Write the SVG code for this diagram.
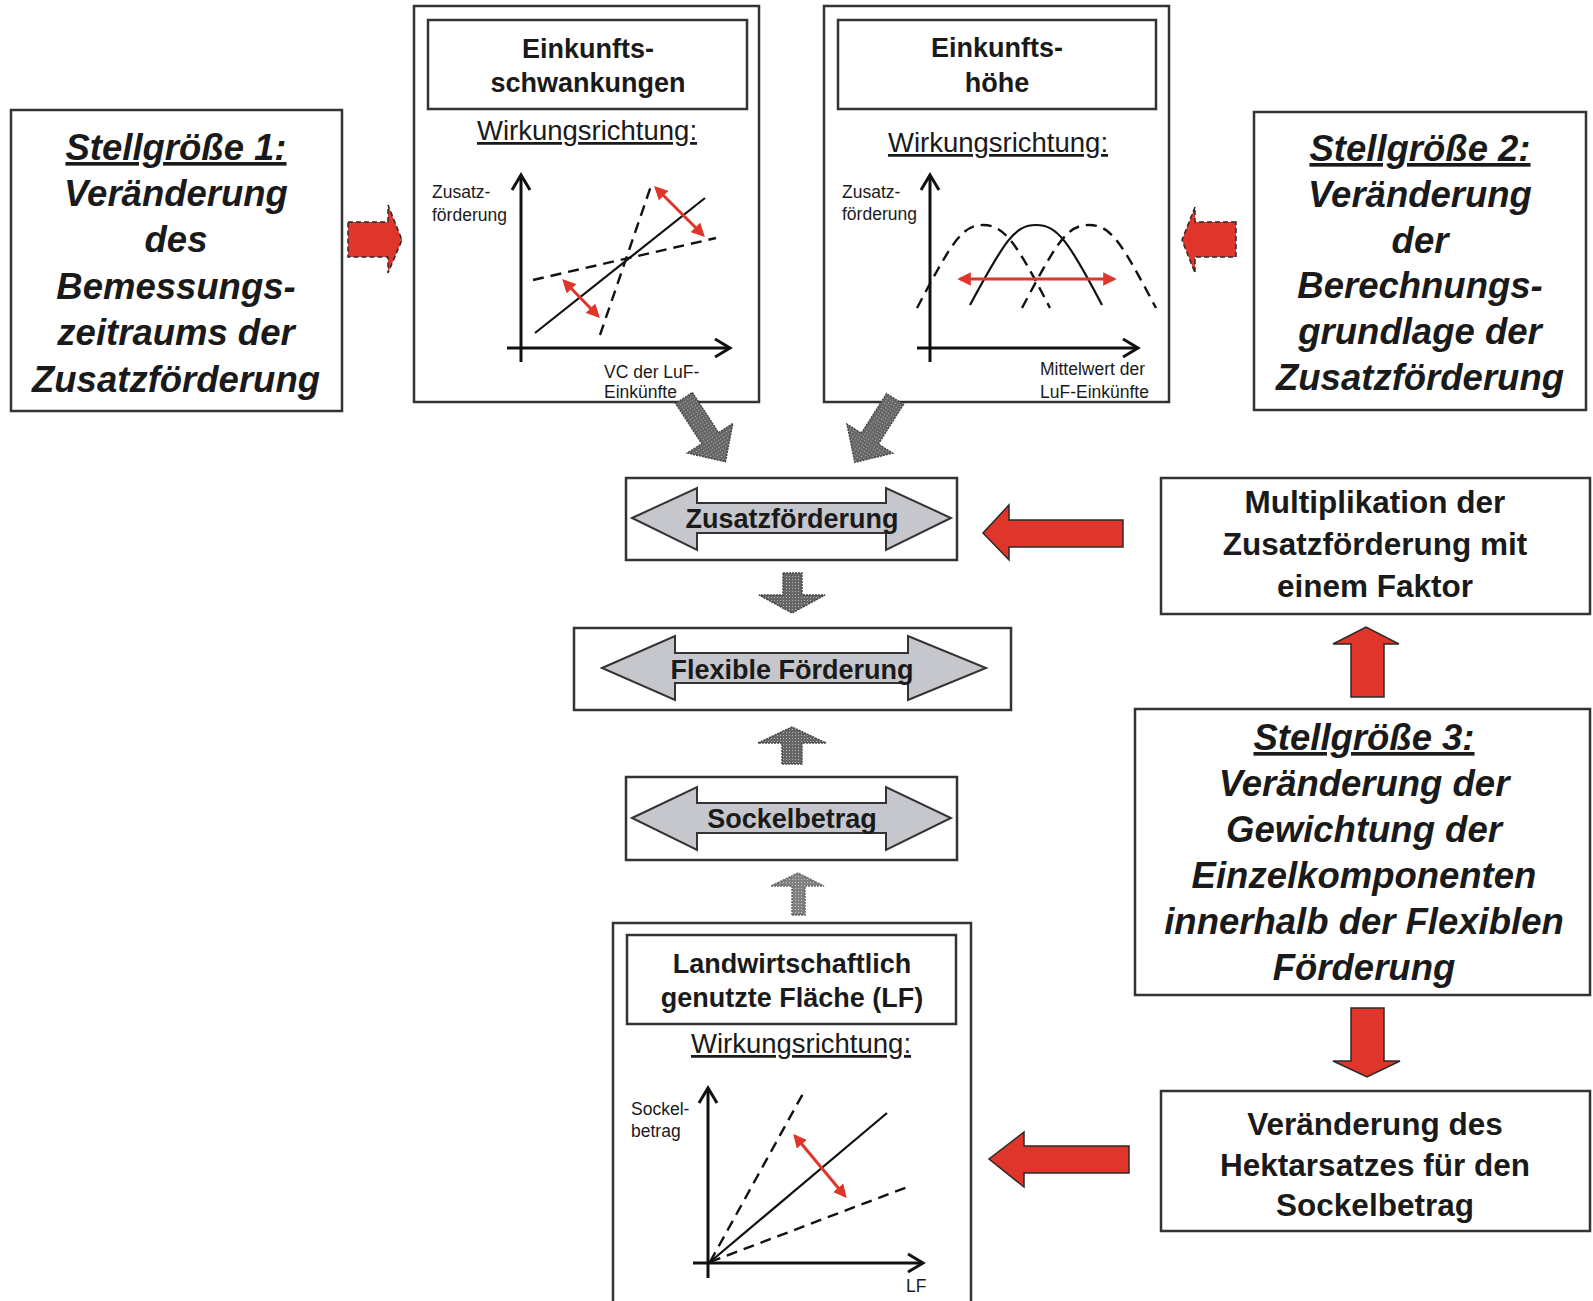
<svg xmlns="http://www.w3.org/2000/svg" width="1593" height="1301" viewBox="0 0 1593 1301">
<style>
text{font-family:"Liberation Sans",Arial,sans-serif;fill:#1a1a1a}
.box{fill:#fff;stroke:#333;stroke-width:2.5}
.ibox{fill:none;stroke:#333;stroke-width:2.5}
.big{font-size:36.5px;font-weight:bold;font-style:italic;text-anchor:middle}
.ttl{font-size:27px;font-weight:bold;text-anchor:middle}
.rt{font-size:31.5px;font-weight:bold;text-anchor:middle}
.wr{font-size:27.5px;text-anchor:middle;text-decoration:underline}
.lab{font-size:17.5px}
.ul{text-decoration:underline}
.dbl{fill:#c6c7cc;stroke:#333;stroke-width:2}
.axis{fill:none;stroke:#111;stroke-width:3}
.ln{fill:none;stroke:#111;stroke-width:2.2}
.dash{fill:none;stroke:#111;stroke-width:2.4;stroke-dasharray:11 7}
.redl{stroke:#e0352b;stroke-width:3;fill:none;marker-start:url(#rh);marker-end:url(#rh)}
.red{fill:#e0352b;stroke:#2a2a2a;stroke-width:1.5}
.redd{fill:#e0352b;stroke:#2a2a2a;stroke-width:1.5;stroke-dasharray:5 3}
.gray{fill:url(#dots);stroke:#444;stroke-width:1.5;stroke-dasharray:2 1}
.grayl{fill:url(#dots2);stroke:#666;stroke-width:1.5;stroke-dasharray:2 1}
</style>
<defs>
<pattern id="dots" width="3" height="3" patternUnits="userSpaceOnUse"><rect width="3" height="3" fill="#666"/><rect width="1" height="1" fill="#b4b4b4"/></pattern>
<pattern id="dots2" width="3" height="3" patternUnits="userSpaceOnUse"><rect width="3" height="3" fill="#808080"/><rect width="1" height="1" fill="#c8c8c8"/></pattern>
<marker id="rh" viewBox="0 0 10 10" refX="8" refY="5" markerWidth="4.5" markerHeight="4.5" orient="auto-start-reverse"><path d="M0,0 L10,5 L0,10 z" fill="#e0352b"/></marker>
</defs>
<rect width="1593" height="1301" fill="#fff"/>

<g id="stellgroesse1">
<rect class="box" x="11" y="110" width="331" height="301"/>
<text class="big" x="176" y="160"><tspan class="ul">Stellgröße 1:</tspan></text>
<text class="big" x="176" y="206">Veränderung</text>
<text class="big" x="176" y="252">des</text>
<text class="big" x="176" y="299">Bemessungs-</text>
<text class="big" x="176" y="345">zeitraums der</text>
<text class="big" x="176" y="392">Zusatzförderung</text>
</g>

<g id="stellgroesse2">
<rect class="box" x="1254" y="112" width="332" height="298"/>
<text class="big" x="1420" y="161"><tspan class="ul">Stellgröße 2:</tspan></text>
<text class="big" x="1420" y="207">Veränderung</text>
<text class="big" x="1420" y="253">der</text>
<text class="big" x="1420" y="298">Berechnungs-</text>
<text class="big" x="1420" y="344">grundlage der</text>
<text class="big" x="1420" y="390">Zusatzförderung</text>
</g>

<g id="einkunftsschwankungen">
<rect class="box" x="414" y="6" width="345" height="396"/>
<rect class="ibox" x="428" y="20" width="319" height="89"/>
<text class="ttl" x="588" y="58">Einkunfts-</text>
<text class="ttl" x="588" y="92">schwankungen</text>
<text class="wr" x="587" y="140">Wirkungsrichtung:</text>
<line class="axis" x1="521" y1="362" x2="521" y2="176"/>
<polyline class="axis" points="512,190 521,175 530,190"/>
<line class="axis" x1="507" y1="348" x2="729" y2="348"/>
<polyline class="axis" points="715,339 730,348 715,357"/>
<text class="lab" x="432" y="198">Zusatz-</text>
<text class="lab" x="432" y="221">förderung</text>
<text class="lab" x="604" y="378">VC der LuF-</text>
<text class="lab" x="604" y="398">Einkünfte</text>
<line class="ln" x1="535" y1="333" x2="705" y2="198"/>
<line class="dash" x1="533" y1="280" x2="716" y2="238"/>
<line class="dash" x1="600" y1="335" x2="652" y2="183"/>
<line class="redl" x1="564" y1="281" x2="598" y2="316"/>
<line class="redl" x1="656" y1="188" x2="703" y2="235"/>
</g>

<g id="einkunftshoehe">
<rect class="box" x="824" y="6" width="345" height="396"/>
<rect class="ibox" x="838" y="20" width="318" height="89"/>
<text class="ttl" x="997" y="57">Einkunfts-</text>
<text class="ttl" x="997" y="92">höhe</text>
<text class="wr" x="998" y="152">Wirkungsrichtung:</text>
<line class="axis" x1="930" y1="362" x2="930" y2="176"/>
<polyline class="axis" points="921,190 930,175 939,190"/>
<line class="axis" x1="917" y1="348" x2="1137" y2="348"/>
<polyline class="axis" points="1123,339 1138,348 1123,357"/>
<text class="lab" x="842" y="198">Zusatz-</text>
<text class="lab" x="842" y="220">förderung</text>
<text class="lab" x="1040" y="375">Mittelwert der</text>
<text class="lab" x="1040" y="398">LuF-Einkünfte</text>
<path class="ln" d="M970,305 C1005,240 1015,225 1036,225 S1068,240 1102,305"/>
<path class="dash" d="M917,308 C952,242 962,225 983,225 S1016,242 1050,308"/>
<path class="dash" d="M1022,308 C1057,242 1067,225 1089,225 S1121,242 1156,308"/>
<line class="redl" x1="960" y1="279" x2="1114" y2="279"/>
</g>

<g id="zusatzfoerderung">
<rect class="box" x="626" y="478" width="331" height="82"/>
<polygon class="dbl" points="632,518 697,488 697,503 886,503 886,488 951,518 886,550 886,533 697,533 697,550"/>
<text class="ttl" x="792" y="528">Zusatzförderung</text>
</g>

<g id="flexible-foerderung">
<rect class="box" x="574" y="628" width="437" height="82"/>
<polygon class="dbl" points="602,668 675,636 675,653 908,653 908,636 986,668 908,700 908,683 675,683 675,700"/>
<text class="ttl" x="792" y="679">Flexible Förderung</text>
</g>

<g id="sockelbetrag">
<rect class="box" x="626" y="777" width="331" height="83"/>
<polygon class="dbl" points="632,818 697,787 697,803 886,803 886,787 951,818 886,850 886,833 697,833 697,850"/>
<text class="ttl" x="792" y="828">Sockelbetrag</text>
</g>

<g id="landwirtschaftliche-flaeche">
<rect class="box" x="613" y="923" width="358" height="400"/>
<rect class="ibox" x="627" y="935" width="329" height="89"/>
<text class="ttl" x="792" y="973">Landwirtschaftlich</text>
<text class="ttl" x="792" y="1007">genutzte Fläche (LF)</text>
<text class="wr" x="801" y="1053">Wirkungsrichtung:</text>
<line class="axis" x1="708" y1="1278" x2="708" y2="1089"/>
<polyline class="axis" points="699,1103 708,1088 717,1103"/>
<line class="axis" x1="693" y1="1263" x2="922" y2="1263"/>
<polyline class="axis" points="908,1254 923,1263 908,1272"/>
<text class="lab" x="631" y="1115">Sockel-</text>
<text class="lab" x="631" y="1137">betrag</text>
<text class="lab" x="906" y="1292">LF</text>
<line class="dash" x1="710" y1="1262" x2="805" y2="1090"/>
<line class="ln" x1="710" y1="1262" x2="887" y2="1113"/>
<line class="dash" x1="710" y1="1262" x2="910" y2="1186"/>
<line class="redl" x1="795" y1="1136" x2="845" y2="1196"/>
</g>

<g id="multiplikation">
<rect class="box" x="1161" y="478" width="429" height="136"/>
<text class="rt" x="1375" y="513">Multiplikation der</text>
<text class="rt" x="1375" y="555">Zusatzförderung mit</text>
<text class="rt" x="1375" y="597">einem Faktor</text>
</g>

<g id="stellgroesse3">
<rect class="box" x="1135" y="709" width="455" height="286"/>
<text class="big" x="1364" y="750"><tspan class="ul">Stellgröße 3:</tspan></text>
<text class="big" x="1364" y="796">Veränderung der</text>
<text class="big" x="1364" y="842">Gewichtung der</text>
<text class="big" x="1364" y="888">Einzelkomponenten</text>
<text class="big" x="1364" y="934">innerhalb der Flexiblen</text>
<text class="big" x="1364" y="980">Förderung</text>
</g>

<g id="hektarsatz">
<rect class="box" x="1161" y="1091" width="429" height="140"/>
<text class="rt" x="1375" y="1135">Veränderung des</text>
<text class="rt" x="1375" y="1176">Hektarsatzes für den</text>
<text class="rt" x="1375" y="1216">Sockelbetrag</text>
</g>

<g id="connectors">
<polygon class="redd" points="348,222 388,222 388,205 402,240 388,273 388,257 348,257"/>
<polygon class="redd" points="1236,222 1195,222 1195,207 1182,240 1195,273 1195,257 1236,257"/>
<g transform="translate(684,398) rotate(57)"><polygon class="gray" points="0,-10 48,-10 48,-27 76,0 48,27 48,10 0,10"/></g>
<g transform="translate(895,399) rotate(122.4)"><polygon class="gray" points="0,-10 47,-10 47,-27 75,0 47,27 47,10 0,10"/></g>
<polygon class="gray" points="783,573 802,573 802,595 825,595 792,613 759,595 783,595"/>
<polygon class="gray" points="782,764 782,743 758,743 792,727 826,743 802,743 802,764"/>
<polygon class="grayl" points="792,915 792,886 771,886 798,873 824,886 805,886 805,915"/>
<polygon class="red" points="1123,520 1009,520 1009,505 983,533 1009,560 1009,547 1123,547"/>
<polygon class="red" points="1351,697 1351,644 1333,644 1366,627 1399,644 1384,644 1384,697"/>
<polygon class="red" points="1351,1008 1384,1008 1384,1061 1400,1061 1367,1077 1333,1061 1351,1061"/>
<polygon class="red" points="1129,1146 1024,1146 1024,1132 989,1159 1024,1187 1024,1173 1129,1173"/>
</g>
</svg>
